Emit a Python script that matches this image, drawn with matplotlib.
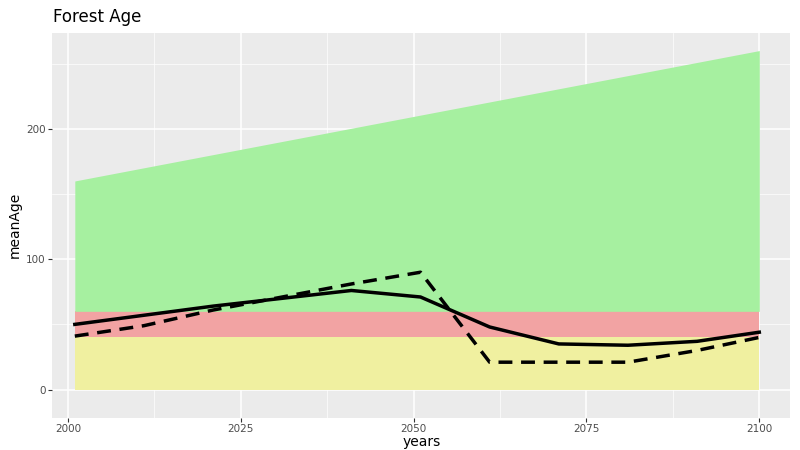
import matplotlib
matplotlib.use("Agg")
import matplotlib.pyplot as plt
import numpy as np

years = [2001, 2011, 2021, 2031, 2041, 2051, 2061, 2071, 2081, 2091, 2100]
mean_age = [50, 57, 64, 70, 76, 71, 48, 35, 34, 37, 44]
mean_age_dashed = [41, 49, 61, 71, 81, 90, 21, 21, 21, 30, 40]
band_x = [2001, 2100]
green_top = [160, 260]

fig = plt.figure(figsize=(8, 4.5), dpi=100)
ax = fig.add_axes([0.065, 0.072, 0.923, 0.855])
ax.set_facecolor("#EBEBEB")
ax.fill_between(band_x, [0, 0], [40, 40], color="#F0F0A0", lw=0, zorder=2)
ax.fill_between(band_x, [40, 40], [60, 60], color="#F2A3A3", lw=0, zorder=2)
ax.fill_between(band_x, [60, 60], green_top, color="#A6F0A0", lw=0, zorder=2)
ax.plot(years, mean_age, color="black", lw=2.5, zorder=3)
ax.plot(years, mean_age_dashed, color="black", lw=2.5, ls=(0, (4, 2.5)), zorder=3)
ax.set_xlim(1997.7, 2104.5)
ax.set_ylim(-21.5, 273.6)
ax.set_xticks([2000, 2025, 2050, 2075, 2100])
ax.set_yticks([0, 100, 200])
ax.set_xticks([2012.5, 2037.5, 2062.5, 2087.5], minor=True)
ax.set_yticks([50, 150, 250], minor=True)
ax.grid(True, which="major", color="white", lw=1.1, zorder=1)
ax.grid(True, which="minor", color="white", lw=0.5, zorder=1)
ax.set_axisbelow(True)
for s in ax.spines.values():
    s.set_visible(False)
ax.tick_params(which="both", length=3, pad=1.5, color="#333333", labelsize=7.5, labelcolor="#4D4D4D")
ax.tick_params(which="minor", length=0)
ax.set_xlabel("years", fontsize=10, labelpad=1)
ax.set_ylabel("meanAge", fontsize=10, labelpad=3)
fig.text(0.066, 0.952, "Forest Age", fontsize=12)
fig.savefig("out.png")
